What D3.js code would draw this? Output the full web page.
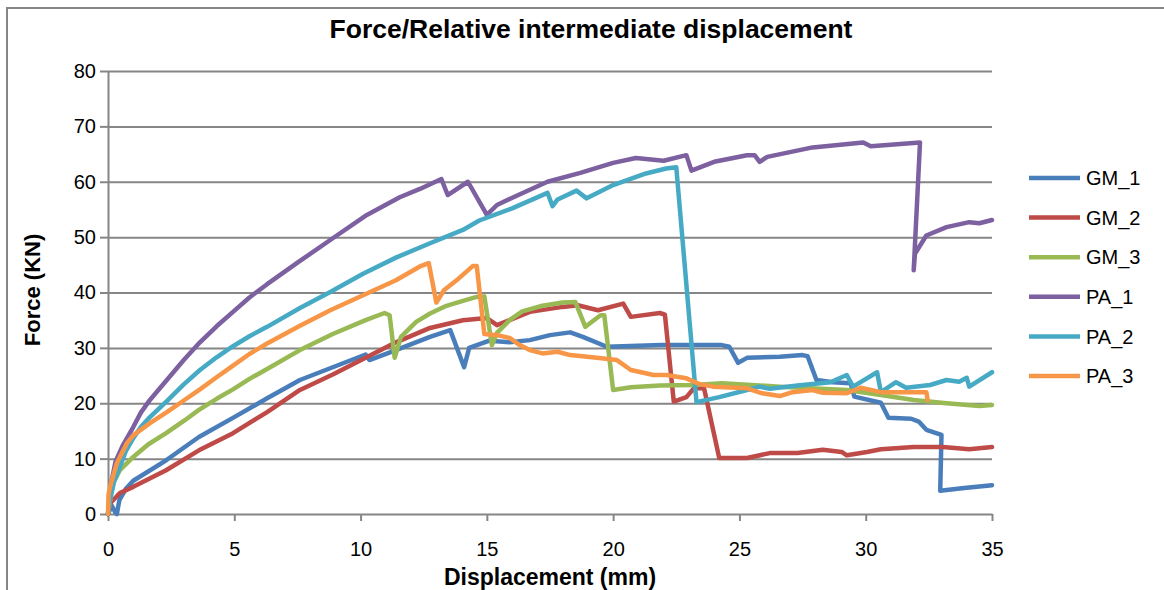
<!DOCTYPE html>
<html>
<head>
<meta charset="utf-8">
<script src="https://cdn.jsdelivr.net/npm/d3@7"></script>
<style>
  body { margin: 0; background: #fff; }
  svg { display: block; font-family: 'Liberation Sans', Arial, sans-serif; }
</style>
</head>
<body>
<div id="chart"></div>
<script>
// values: [displacement mm, force kN]
const seriesNames = ['GM_1', 'GM_2', 'GM_3', 'PA_1', 'PA_2', 'PA_3']
const seriesColors = ['#4A7EBB', '#BE4B48', '#98B954', '#7D60A0', '#46AAC5', '#F79646']

const gm1 = [[0, 0], [0.15, 1.5], [0.3, 0.2], [0.35, 0], [0.45, 2.5], [0.7, 4.5], [1, 6], [2.3, 9.7], [3.6, 13.9], [5, 17.5], [6.3, 20.9], [7.6, 24.2], [8.9, 26.5], [10.2, 28.8], [10.35, 27.8], [11.4, 29.6], [12.75, 32], [13.55, 33.2], [14.1, 26.5], [14.3, 30], [15.1, 31.3], [15.9, 31], [16.7, 31.4], [17.5, 32.3], [18.3, 32.8], [18.8, 32], [19.75, 30.2], [21.9, 30.5], [24.3, 30.5], [24.6, 30.2], [24.95, 27.3], [25.3, 28.2], [26.6, 28.4], [27.5, 28.7], [27.7, 28.5], [28.05, 24.2], [28.7, 23.8], [29.4, 23.6], [29.55, 21.2], [30.6, 20.1], [30.9, 17.4], [31.8, 17.2], [32.1, 16.7], [32.4, 15.2], [33.0, 14.3], [32.95, 4.2], [33.9, 4.7], [35, 5.2]]
const gm2 = [[0, 0], [0.1, 2], [0.47, 3.8], [1, 4.9], [2.3, 7.9], [3.6, 11.5], [4.95, 14.6], [6.3, 18.4], [7.6, 22.4], [8.9, 25.2], [10.2, 28.2], [11.4, 31], [12.75, 33.6], [14.05, 35], [15, 35.4], [15.4, 34.1], [15.9, 35], [16.7, 36.5], [18, 37.4], [18.6, 37.7], [19.4, 36.8], [20.4, 38], [20.7, 35.6], [21.85, 36.3], [22.05, 36], [22.4, 20.3], [22.9, 21.1], [23.2, 22.7], [23.6, 22.7], [24.2, 10.1], [25.3, 10.1], [26.2, 11], [27.3, 11], [28.3, 11.6], [29.05, 11.2], [29.25, 10.6], [30.05, 11.2], [30.6, 11.7], [31.9, 12.1], [33.05, 12.1], [34.1, 11.7], [35, 12.1]]
const gm3 = [[0, 0], [0.1, 3], [0.2, 5.5], [0.47, 7.9], [1, 10.3], [1.6, 12.6], [2.3, 14.6], [3, 16.8], [3.6, 18.8], [4.3, 20.8], [4.95, 22.5], [5.6, 24.4], [6.3, 26.2], [7.6, 29.6], [8.9, 32.5], [10.2, 35], [10.95, 36.3], [11.15, 35.9], [11.35, 28.2], [11.6, 32], [12.2, 34.7], [12.75, 36.2], [13.4, 37.6], [14.05, 38.5], [14.6, 39.2], [14.9, 39.3], [15.2, 30.5], [15.4, 32.7], [15.9, 35], [16.4, 36.6], [17.2, 37.6], [18, 38.2], [18.5, 38.3], [18.9, 33.8], [19.5, 35.9], [19.65, 35.9], [20, 22.4], [20.7, 22.9], [21.85, 23.2], [23.2, 23.3], [24.3, 23.6], [26.6, 23], [29.25, 22.4], [30.6, 21.5], [31.9, 20.6], [33.2, 20], [34.5, 19.5], [35, 19.7]]
const pa1 = [[0, 0], [0.1, 5], [0.3, 9.5], [0.6, 12.5], [1, 15.7], [1.3, 18.3], [1.66, 20.6], [2.33, 24.2], [3, 27.8], [3.64, 31], [4.3, 33.9], [4.95, 36.5], [5.6, 39.1], [6.3, 41.5], [7.6, 45.7], [8.9, 49.8], [10.25, 54], [11.55, 57.2], [12.35, 58.7], [13.2, 60.5], [13.45, 57.6], [14.25, 60], [15.0, 54], [15.4, 55.8], [16.05, 57.2], [17.4, 60], [18.7, 61.6], [20, 63.4], [20.9, 64.3], [22, 63.8], [22.9, 64.8], [23.1, 62], [24, 63.6], [25.3, 64.8], [25.6, 64.8], [25.8, 63.6], [26.1, 64.5], [27.9, 66.2], [29.9, 67.1], [30.2, 66.4], [32.15, 67.1], [31.9, 44], [31.95, 47], [32.4, 50.3], [33.2, 51.8], [34.1, 52.7], [34.5, 52.5], [35, 53.1]]
const pa2 = [[0, 0], [0.1, 3], [0.25, 6], [0.47, 8.5], [0.7, 11.3], [1, 13.7], [1.3, 15.7], [1.66, 17.5], [2.33, 20.4], [3, 23.4], [3.64, 26], [4.3, 28.3], [4.95, 30.3], [5.6, 32.1], [6.3, 33.8], [7.6, 37.2], [8.8, 40.1], [10.1, 43.4], [11.4, 46.3], [12.75, 48.9], [14.05, 51.3], [14.7, 53], [16, 55.2], [17.4, 58], [17.6, 55.6], [17.8, 56.8], [18.55, 58.4], [18.95, 57], [20, 59.4], [21.3, 61.5], [22.1, 62.4], [22.5, 62.6], [23.3, 20.2], [24.2, 21.1], [25.3, 22.4], [25.8, 23], [26.2, 22.6], [27.3, 23.2], [28.6, 23.8], [29.25, 25.1], [29.5, 23], [30.45, 25.6], [30.6, 22], [31.2, 23.8], [31.6, 22.8], [32.55, 23.3], [33.2, 24.2], [33.7, 23.9], [34, 24.6], [34.1, 23], [35, 25.6]]
const pa3 = [[0, 0], [0.02, 3.5], [0.08, 4.9], [0.35, 9.2], [0.75, 12.8], [1, 14.2], [1.66, 16.4], [2.33, 18.4], [3, 20.5], [3.64, 22.5], [4.3, 24.7], [4.95, 26.8], [5.6, 28.9], [6.3, 30.8], [7.6, 34], [8.8, 36.8], [10.1, 39.5], [11.4, 42.2], [12.35, 44.7], [12.7, 45.3], [13.0, 38.2], [13.3, 40.4], [13.8, 42.2], [14.45, 44.8], [14.6, 44.8], [14.9, 32.5], [15.4, 32.3], [15.9, 31.8], [16.3, 30.5], [16.7, 29.6], [17.2, 29], [17.8, 29.3], [18.3, 28.7], [19.35, 28.2], [20.15, 27.8], [20.7, 26], [21.6, 25.1], [22.1, 25.1], [22.9, 24.5], [23.4, 23.5], [23.95, 23], [25.3, 22.7], [25.9, 21.8], [26.6, 21.3], [27.1, 22], [27.9, 22.4], [28.3, 21.9], [29.25, 21.8], [29.8, 22.8], [30.6, 22], [31.75, 22], [32.4, 22], [32.45, 20.6]]

const seriesValues = [gm1, gm2, gm3, pa1, pa2, pa3]
const xTicks = [0, 5, 10, 15, 20, 25, 30, 35]
const yTicks = [0, 10, 20, 30, 40, 50, 60, 70, 80]

const width = 1164
const height = 590
const plot = { left: 108, right: 992, top: 71, bottom: 514 }
const gridColor = '#868686'

const svg = d3.select('#chart')
  .append('svg')
  .attr('width', width)
  .attr('height', height)

// outer chart frame (right and bottom edges fall outside the picture)
svg.append('rect')
  .attr('x', 7)
  .attr('y', 8)
  .attr('width', width)
  .attr('height', height)
  .attr('fill', '#fff')
  .attr('stroke', gridColor)
  .attr('stroke-width', 2)

const x = d3.scaleLinear().domain([0, 35]).range([plot.left, plot.right])
const y = d3.scaleLinear().domain([0, 80]).range([plot.bottom, plot.top])

// horizontal gridlines
svg.append('g')
  .attr('transform', `translate(${plot.left},0)`)
  .call(d3.axisLeft(y).tickValues(yTicks.slice(1)).tickSize(-(plot.right - plot.left)).tickFormat(''))
  .call(g => g.select('.domain').remove())
  .call(g => g.selectAll('line').attr('stroke', gridColor).attr('stroke-width', 2))

// y axis
svg.append('g')
  .attr('transform', `translate(${plot.left},0)`)
  .call(d3.axisLeft(y).tickValues(yTicks).tickSize(8).tickSizeOuter(0).tickPadding(4))
  .call(g => g.select('.domain').attr('stroke', gridColor).attr('stroke-width', 2))
  .call(g => g.selectAll('line').attr('stroke', gridColor).attr('stroke-width', 2))
  .call(g => g.selectAll('text').attr('font-size', 20).attr('fill', '#000')
    .attr('font-family', "'Liberation Sans', Arial, sans-serif"))

// x axis
svg.append('g')
  .attr('transform', `translate(0,${plot.bottom})`)
  .call(d3.axisBottom(x).tickValues(xTicks).tickSize(7).tickSizeOuter(0).tickPadding(21))
  .call(g => g.select('.domain').attr('stroke', gridColor).attr('stroke-width', 2))
  .call(g => g.selectAll('line').attr('stroke', gridColor).attr('stroke-width', 2))
  .call(g => g.selectAll('text').attr('font-size', 20).attr('fill', '#000')
    .attr('font-family', "'Liberation Sans', Arial, sans-serif"))

const line = d3.line()
  .x(d => x(d[0]))
  .y(d => y(d[1]))

svg.append('g')
  .selectAll('path')
  .data(seriesValues)
  .join('path')
  .attr('d', line)
  .attr('fill', 'none')
  .attr('stroke', (d, i) => seriesColors[i])
  .attr('stroke-width', 4.5)
  .attr('stroke-linejoin', 'round')
  .attr('stroke-linecap', 'round')

// legend
const legend = svg.append('g')
  .selectAll('g')
  .data(seriesNames)
  .join('g')
  .attr('transform', (d, i) => `translate(1029,${178 + i * 39.6})`)

legend.append('line')
  .attr('x1', 0)
  .attr('x2', 51)
  .attr('stroke', (d, i) => seriesColors[i])
  .attr('stroke-width', 4.5)

legend.append('text')
  .attr('x', 57)
  .attr('dy', '0.36em')
  .attr('font-size', 20)
  .text(d => d)

// titles
svg.append('text')
  .attr('x', 591)
  .attr('y', 38)
  .attr('text-anchor', 'middle')
  .attr('font-size', 26.5)
  .attr('font-weight', 'bold')
  .text('Force/Relative intermediate displacement')

svg.append('text')
  .attr('x', 550)
  .attr('y', 585)
  .attr('text-anchor', 'middle')
  .attr('font-size', 23)
  .attr('font-weight', 'bold')
  .text('Displacement (mm)')

svg.append('text')
  .attr('transform', 'translate(40,290) rotate(-90)')
  .attr('text-anchor', 'middle')
  .attr('font-size', 22)
  .attr('font-weight', 'bold')
  .text('Force (KN)')
</script>
</body>
</html>
